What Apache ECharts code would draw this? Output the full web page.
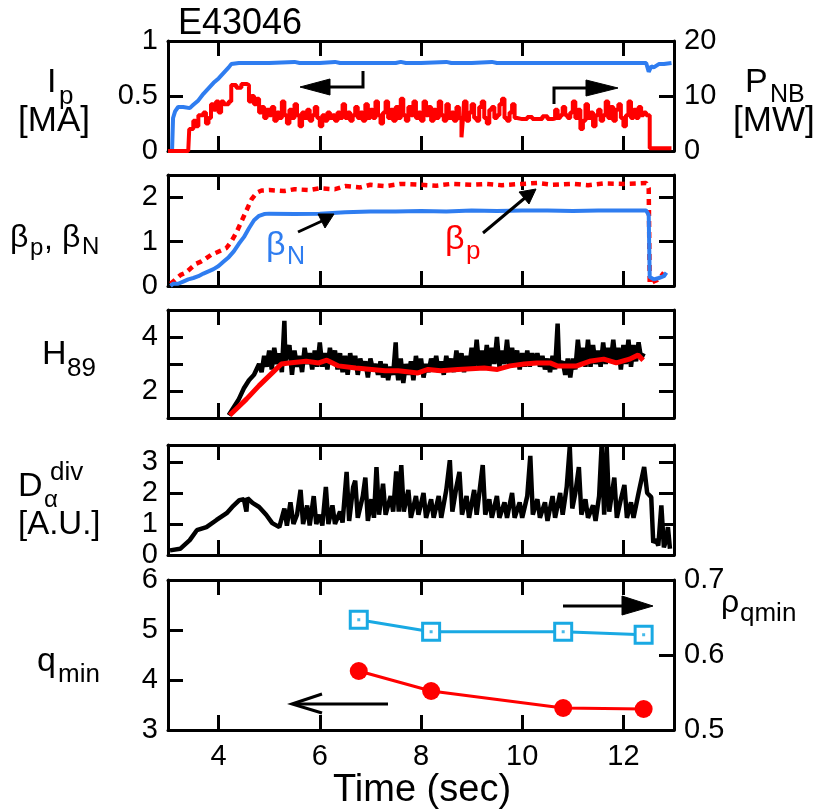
<!DOCTYPE html>
<html><head><meta charset="utf-8">
<script src="https://cdn.jsdelivr.net/npm/echarts@6/dist/echarts.min.js"></script>
<style>html,body{margin:0;padding:0;background:#fff}#c{width:831px;height:810px}</style>
</head><body><div id="c"></div>
<script>
// ---------- DATA ----------
const xTicks = [4, 6, 8, 10, 12];
const shotLabel = 'E43046';
// Panel 1: plasma current Ip [MA] (left) and NB power [MW] (right)
const ipData = [[3.08,0],[3.1,0.3],[3.14,0.36],[3.2,0.4],[3.3,0.4],[3.43,0.39],[3.5,0.42],[3.6,0.46],[3.7,0.52],[3.8,0.57],[3.9,0.62],[4.0,0.66],[4.1,0.71],[4.2,0.76],[4.25,0.79],[4.4,0.8],[5.0,0.8],[5.5,0.81],[5.6,0.8],[6.0,0.8],[6.3,0.81],[6.4,0.8],[7.0,0.8],[7.5,0.8],[7.6,0.81],[7.7,0.8],[8.0,0.8],[8.5,0.81],[8.6,0.8],[9.0,0.8],[9.4,0.81],[9.5,0.8],[10.0,0.8],[10.5,0.8],[11.0,0.8],[11.5,0.8],[12.0,0.8],[12.45,0.8],[12.5,0.72],[12.55,0.77],[12.6,0.76],[12.7,0.79],[12.8,0.79],[12.95,0.8]];
const pnbData = [[3.0,0],[3.4,0],[3.42,4],[3.5,5.5],[3.55,4.5],[3.6,6.5],[3.7,7],[3.75,5],[3.8,6],[3.85,8.5],[3.9,7.5],[3.95,9],[4.0,7],[4.05,9],[4.1,8.5],[4.2,9],[4.25,12],[4.35,11.5],[4.45,12.2],[4.55,12],[4.6,9],[4.65,10],[4.7,8.5],[4.75,9.5],[4.8,7],[4.85,8],[4.9,6],[4.95,7.5],
  [5.0,6.5],[5.05,8],[5.1,5.5],[5.15,7],[5.2,6],[5.25,9],[5.3,6.5],[5.35,5],[5.4,7.5],[5.45,6],[5.5,8.5],[5.55,6.5],[5.6,4.5],[5.65,7],[5.7,6],[5.75,7.5],[5.8,5.5],[5.85,6.5],[5.9,8],[5.95,6],[6.0,4.5],[6.05,6.5],[6.1,5.5],[6.15,7],[6.2,6],[6.25,6.5],[6.3,5.5],[6.35,7],[6.4,6],[6.45,8.5],[6.5,6],[6.55,7],[6.6,5.5],[6.65,6.5],[6.7,8],[6.75,6],[6.8,7],[6.85,5.5],[6.9,8.5],[6.95,6],
  [7.0,7.5],[7.05,6],[7.1,9],[7.15,6.5],[7.2,5],[7.25,7],[7.3,9],[7.35,6],[7.4,7.5],[7.45,5.5],[7.5,8],[7.55,6],[7.6,9.5],[7.65,6.5],[7.7,5.5],[7.75,8],[7.8,6.5],[7.85,9],[7.9,6],[7.95,7],[8.0,5.5],[8.05,9],[8.1,6.5],[8.15,8],[8.2,5.5],[8.25,7.5],[8.3,6],[8.35,9],[8.4,6.5],[8.45,5.5],[8.5,8.5],[8.55,6],[8.6,7],[8.65,5.5],[8.7,8],[8.75,6],[8.8,2.5],[8.83,6],[8.85,9],[8.9,5.5],[8.95,7],
  [9.0,8.5],[9.05,6],[9.1,5.5],[9.15,8],[9.2,9],[9.25,6],[9.3,5],[9.35,7.5],[9.4,8],[9.45,6],[9.5,6.5],[9.55,8.5],[9.6,9.5],[9.65,6],[9.7,5.5],[9.75,7],[9.8,8.5],[9.85,6],[9.9,5.8],[10.0,5.8],[10.1,6.2],[10.2,5.8],[10.3,5.8],[10.4,6.3],[10.5,5.8],[10.6,5.9],[10.65,7.5],[10.7,6],[10.75,6.5],[10.8,8],[10.85,6.5],[10.9,6],[10.95,7],
  [11.0,9],[11.05,6],[11.1,7.5],[11.15,4],[11.2,5.5],[11.25,8.5],[11.3,6],[11.35,7],[11.4,4.5],[11.45,6.5],[11.5,7.5],[11.55,5.5],[11.6,6.5],[11.65,9],[11.7,6],[11.75,8],[11.8,5.5],[11.85,7.5],[11.9,8.5],[11.95,6],[12.0,4.5],[12.05,6.5],[12.1,9],[12.15,6],[12.2,7.5],[12.25,6],[12.3,8],[12.35,6.5],[12.4,7],[12.45,6.5],[12.52,0.5],[12.95,0.5]];
// Panel 2: beta_p (dashed red) and beta_N (blue)
const betaPData = [[3.05,0.05],[3.15,0.15],[3.25,0.25],[3.35,0.3],[3.45,0.4],[3.55,0.5],[3.65,0.55],[3.75,0.62],[3.85,0.7],[3.95,0.75],[4.05,0.8],[4.15,0.85],[4.25,1.0],[4.35,1.2],[4.45,1.45],[4.55,1.7],[4.65,1.95],[4.75,2.1],[4.85,2.15],[5.0,2.16],[5.3,2.14],[5.5,2.18],[5.8,2.16],[6.0,2.2],[6.3,2.18],[6.5,2.25],[6.8,2.22],[7.0,2.28],[7.3,2.25],[7.6,2.3],[8.0,2.28],[8.3,2.26],[8.6,2.3],[9.0,2.28],[9.3,2.3],[9.6,2.27],[10.0,2.3],[10.3,2.32],[10.6,2.28],[11.0,2.3],[11.3,2.27],[11.6,2.31],[12.0,2.3],[12.45,2.32],[12.5,2.2],[12.52,0.05],[12.6,0.1],[12.7,0.15],[12.8,0.3]];
const betaNData = [[3.05,0],[3.1,0.05],[3.2,0.05],[3.3,0.1],[3.4,0.15],[3.5,0.18],[3.6,0.22],[3.7,0.28],[3.8,0.33],[3.9,0.38],[4.0,0.45],[4.1,0.55],[4.2,0.65],[4.3,0.78],[4.4,0.95],[4.5,1.1],[4.6,1.3],[4.7,1.48],[4.8,1.58],[4.9,1.62],[5.0,1.63],[5.5,1.62],[6.0,1.63],[6.5,1.66],[7.0,1.68],[7.5,1.68],[8.0,1.69],[8.5,1.68],[9.0,1.7],[9.5,1.69],[10.0,1.7],[10.5,1.7],[11.0,1.69],[11.5,1.7],[12.0,1.7],[12.45,1.7],[12.5,1.6],[12.52,0.2],[12.6,0.15],[12.7,0.18],[12.8,0.22],[12.85,0.3]];
// Panel 3: H89 (black raw, red smoothed)
const h89Data = [[4.2,1.1],[4.3,1.4],[4.4,1.7],[4.5,2.1],[4.6,2.4],[4.7,2.6],[4.8,3.0],[4.85,2.7],[4.9,3.3],[4.95,2.9],[5.0,3.5],[5.05,2.8],[5.1,3.6],[5.15,3.0],[5.2,3.4],[5.25,2.7],[5.3,4.6],[5.32,3.1],[5.4,3.7],[5.45,2.6],[5.5,3.5],[5.55,2.9],[5.6,3.3],[5.65,2.7],[5.7,3.6],[5.75,3.0],[5.8,3.4],[5.85,2.8],[5.9,3.5],[5.95,2.9],[6.0,3.8],[6.05,2.9],[6.1,3.4],[6.15,2.8],[6.2,3.6],[6.25,3.0],[6.3,3.5],[6.35,2.8],[6.4,3.4],[6.45,2.7],[6.5,3.3],[6.55,2.6],[6.6,3.4],[6.65,2.9],[6.7,3.3],[6.75,2.6],[6.8,3.2],[6.85,2.8],[6.9,3.1],[6.95,2.5],[7.0,3.2],[7.05,2.8],[7.1,3.0],[7.15,2.6],[7.2,3.1],[7.25,2.5],[7.3,3.0],[7.35,2.4],[7.4,2.9],[7.45,2.6],[7.5,3.8],[7.52,2.9],[7.55,2.4],[7.6,3.2],[7.65,2.3],[7.7,3.0],[7.75,2.6],[7.8,3.1],[7.85,2.4],[7.9,3.3],[7.95,2.7],[8.0,3.2],[8.05,2.5],[8.1,3.0],[8.15,2.7],[8.2,3.2],[8.25,2.8],[8.3,3.3],[8.35,2.7],[8.4,3.1],[8.45,2.6],[8.5,3.3],[8.55,2.8],[8.6,3.2],[8.65,2.7],[8.7,3.5],[8.75,2.8],[8.8,3.4],[8.85,2.7],[8.9,3.3],[8.95,2.8],[9.0,3.6],[9.05,2.8],[9.1,3.9],[9.15,2.9],[9.2,3.5],[9.25,2.8],[9.3,3.7],[9.35,2.9],[9.4,3.6],[9.45,3.0],[9.5,4.0],[9.55,2.9],[9.6,3.5],[9.65,3.0],[9.7,3.9],[9.75,2.9],[9.8,3.6],[9.85,3.0],[9.9,3.5],[9.95,2.8],[10.0,3.4],[10.05,2.9],[10.1,3.5],[10.15,2.9],[10.2,3.4],[10.25,3.0],[10.3,3.4],[10.35,2.9],[10.4,3.3],[10.45,2.8],[10.5,3.2],[10.55,2.7],[10.6,3.3],[10.65,2.8],[10.7,4.5],[10.73,2.9],[10.8,3.1],[10.85,2.6],[10.9,3.2],[10.95,2.5],[11.0,3.2],[11.05,2.8],[11.1,3.9],[11.15,3.0],[11.2,3.6],[11.25,2.9],[11.3,3.9],[11.35,2.9],[11.4,3.7],[11.45,3.0],[11.5,3.5],[11.55,2.9],[11.6,3.8],[11.65,3.0],[11.7,3.6],[11.75,3.1],[11.8,3.9],[11.85,3.0],[11.9,3.6],[11.95,2.8],[12.0,3.7],[12.05,3.0],[12.1,3.9],[12.15,2.9],[12.2,3.7],[12.25,3.1],[12.3,3.8],[12.35,3.2],[12.4,3.4]];
const h89SmoothData = [[4.22,1.1],[4.55,1.7],[4.8,2.2],[5.06,2.67],[5.24,3.0],[5.39,3.04],[5.73,3.1],[5.98,3.04],[6.14,3.14],[6.37,2.93],[6.71,2.85],[7.29,2.75],[7.55,2.75],[7.94,2.67],[8.14,2.8],[8.39,2.75],[8.73,2.8],[9.25,2.85],[9.51,2.8],[9.76,2.93],[10.04,3.0],[10.29,3.04],[10.55,3.04],[10.69,2.93],[11.08,2.93],[11.33,3.1],[11.61,3.18],[11.86,3.04],[12.12,3.18],[12.29,3.33],[12.39,3.14]];
// Panel 4: divertor D-alpha [A.U.]
const dalphaData = [[3.04,0.15],[3.24,0.2],[3.43,0.48],[3.57,0.8],[3.76,0.9],[3.96,1.13],[4.16,1.35],[4.27,1.55],[4.41,1.77],[4.5,1.8],[4.55,1.4],[4.57,1.84],[4.67,1.68],[4.8,1.55],[4.94,1.3],[5.06,1.03],[5.2,0.9],[5.3,1.5],[5.35,0.95],[5.42,1.7],[5.48,1.0],[5.55,1.3],[5.62,2.1],[5.67,1.0],[5.75,1.6],[5.8,0.95],[5.88,1.9],[5.93,1.0],[6.0,1.3],[6.05,0.95],[6.12,2.2],[6.17,1.0],[6.25,1.6],[6.3,1.0],[6.4,1.4],[6.45,1.05],[6.53,2.68],[6.58,1.1],[6.66,2.2],[6.7,2.4],[6.75,1.2],[6.85,1.9],[6.9,2.5],[6.95,1.1],[7.02,1.8],[7.07,1.2],[7.12,2.84],[7.17,1.3],[7.25,2.3],[7.3,1.3],[7.4,1.9],[7.45,1.4],[7.51,2.7],[7.56,1.4],[7.61,2.9],[7.66,1.4],[7.75,2.1],[7.8,1.2],[7.9,1.9],[7.95,1.3],[8.05,2.0],[8.1,1.2],[8.2,1.8],[8.25,1.2],[8.35,1.9],[8.4,1.2],[8.5,2.1],[8.57,3.06],[8.62,1.4],[8.7,2.2],[8.76,2.68],[8.81,1.3],[8.9,1.9],[8.95,1.2],[9.05,2.1],[9.1,1.3],[9.22,2.9],[9.27,1.3],[9.35,1.8],[9.4,1.2],[9.5,1.9],[9.55,1.2],[9.65,1.7],[9.7,1.2],[9.8,2.0],[9.85,1.2],[9.95,1.7],[10.0,1.2],[10.1,1.9],[10.16,3.2],[10.21,1.3],[10.3,1.8],[10.35,1.2],[10.45,1.7],[10.5,1.1],[10.6,1.9],[10.65,1.2],[10.75,2.0],[10.8,1.3],[10.88,2.2],[10.94,3.5],[10.99,1.5],[11.05,2.0],[11.12,2.84],[11.17,1.3],[11.25,1.8],[11.3,1.2],[11.4,1.6],[11.45,1.1],[11.52,1.9],[11.57,3.55],[11.62,1.3],[11.67,3.5],[11.72,1.4],[11.82,2.5],[11.87,1.2],[11.95,1.8],[12.02,2.26],[12.07,1.2],[12.15,1.7],[12.2,1.2],[12.3,2.0],[12.41,2.84],[12.47,2.0],[12.55,1.87],[12.59,0.4],[12.64,0.5],[12.69,0.3],[12.75,1.6],[12.8,0.25],[12.85,0.5],[12.88,0.9],[12.92,0.2]];
// Panel 5: q_min (left, red circles) and rho_qmin (right, cyan squares)
const qTimes = [6.77, 8.2, 10.81, 12.4];
const qminValues = [4.18, 3.78, 3.44, 3.42];
const rhoQminValues = [0.647, 0.631, 0.631, 0.627];

// ---------- STYLE ----------
const FONT = '"Liberation Sans", Arial, Helvetica, sans-serif';
const BLUE = '#2f7df0', RED = '#ff0000', CYAN = '#19a9e3';
const panels = [
  {top: 41, height: 110, lmin: 0, lmax: 1, lint: 0.5, rmin: 0, rmax: 20, rint: 10, rlab: true, lfmt: v => (v === 0 ? '0' : v === 0.5 ? '0.5' : v === 1 ? '1' : '')},
  {top: 175, height: 111, lmin: 0, lmax: 2.5, lint: 1, rmin: 0, rmax: 2.5, rint: 1, rlab: false, lfmt: v => (Number.isInteger(v) ? String(v) : '')},
  {top: 310, height: 108, lmin: 1, lmax: 5, lint: 1, rmin: 1, rmax: 5, rint: 1, rlab: false, lfmt: v => (v === 2 || v === 4 ? String(v) : '')},
  {top: 445, height: 110, lmin: 0, lmax: 3.55, lint: 1, rmin: 0, rmax: 3.55, rint: 1, rlab: false, lfmt: v => (Number.isInteger(v) ? String(v) : '')},
  {top: 580, height: 150, lmin: 3, lmax: 6, lint: 1, rmin: 0.5, rmax: 0.7, rint: 0.1, rlab: true, lfmt: v => String(v)}
];
const axLine = {show: true, onZero: false, lineStyle: {color: '#000', width: 3}};
const tick = {show: true, inside: true, length: 15, lineStyle: {color: '#000', width: 3}};
const grids = [], xAxes = [], yAxes = [];
panels.forEach((p, i) => {
  grids.push({left: 168, right: 157, top: p.top, height: p.height, containLabel: false});
  xAxes.push({gridIndex: i, type: 'value', min: 3, max: 13, position: 'bottom', axisLine: axLine,
    axisTick: Object.assign({}, tick, {customValues: xTicks}),
    axisLabel: {show: i === 4, customValues: xTicks, fontSize: 29, fontFamily: FONT, color: '#000', margin: 12},
    splitLine: {show: false}});
  xAxes.push({gridIndex: i, type: 'value', min: 3, max: 13, position: 'top', axisLine: axLine,
    axisTick: Object.assign({}, tick, {customValues: xTicks}),
    axisLabel: {show: false}, splitLine: {show: false}});
  yAxes.push({gridIndex: i, type: 'value', min: p.lmin, max: p.lmax, interval: p.lint, position: 'left',
    axisLine: axLine, axisTick: tick,
    axisLabel: {show: true, fontSize: 29, fontFamily: FONT, color: '#000', margin: 10, formatter: p.lfmt, showMinLabel: true, showMaxLabel: true},
    splitLine: {show: false}});
  yAxes.push({gridIndex: i, type: 'value', min: p.rmin, max: p.rmax, interval: p.rint, position: 'right',
    axisLine: axLine, axisTick: tick,
    axisLabel: {show: p.rlab, fontSize: 29, fontFamily: FONT, color: '#000', margin: 10,
      formatter: v => (i === 4 ? v.toFixed(1) : String(v)), showMinLabel: true, showMaxLabel: true},
    splitLine: {show: false}});
});

const line = (name, data, xi, yi, color, width, extra) => Object.assign({
  name, type: 'line', data, xAxisIndex: xi, yAxisIndex: yi, showSymbol: false, symbol: 'none',
  lineStyle: {color, width}, itemStyle: {color}, animation: false}, extra || {});

const series = [
  line('Ip', ipData, 0, 0, BLUE, 4),
  line('PNB', pnbData, 0, 1, RED, 4, {step: 'end'}),
  line('betaP', betaPData, 2, 2, RED, 4.5, {lineStyle: {color: RED, width: 4.5, type: [6, 5]}}),
  line('betaN', betaNData, 2, 2, BLUE, 4),
  line('H89', h89Data, 4, 4, '#000', 4.5),
  line('H89s', h89SmoothData, 4, 4, RED, 5),
  line('Dalpha', dalphaData, 6, 6, '#000', 4.5),
  {name: 'qmin', type: 'line', xAxisIndex: 8, yAxisIndex: 8, data: qTimes.map((t, k) => [t, qminValues[k]]),
    symbol: 'circle', symbolSize: 18, showSymbol: true, lineStyle: {color: RED, width: 3}, itemStyle: {color: RED}, animation: false},
  {name: 'rho', type: 'line', xAxisIndex: 8, yAxisIndex: 9, data: qTimes.map((t, k) => [t, rhoQminValues[k]]),
    symbol: 'rect', symbolSize: 17, showSymbol: true, lineStyle: {color: CYAN, width: 3},
    itemStyle: {color: '#fff', borderColor: CYAN, borderWidth: 3}, z: 3, animation: false},
  {name: 'rhoDot', type: 'scatter', xAxisIndex: 8, yAxisIndex: 9, data: qTimes.map((t, k) => [t, rhoQminValues[k]]),
    symbol: 'rect', symbolSize: 3, itemStyle: {color: CYAN}, z: 4, animation: false}
];

// ---------- ANNOTATIONS ----------
const T = (x, y, text, size, color) => ({type: 'text', x, y, z: 100,
  style: {text, font: size + 'px ' + FONT, fill: color || '#000', textAlign: 'left', textVerticalAlign: 'middle', align: 'left', verticalAlign: 'middle'}});
const PL = (pts) => ({type: 'polyline', z: 100, shape: {points: pts}, style: {stroke: '#000', lineWidth: 3, fill: null}});
const PG = (pts) => ({type: 'polygon', z: 100, shape: {points: pts}, style: {fill: '#000', stroke: '#000', lineWidth: 1}});
const graphics = [
  T(178, 24, shotLabel, 36),
  T(47, 83, 'I', 34), T(59, 97, 'p', 26),
  T(18, 121, '[MA]', 35),
  T(745, 83, 'P', 34), T(770, 95, 'NB', 25),
  T(733, 121, '[MW]', 35),
  T(10, 238, 'β', 32), T(30, 248, 'p', 24), T(44, 240, ',', 32), T(62, 238, 'β', 32), T(82, 247, 'N', 24),
  T(266, 246, 'β', 34, BLUE), T(287, 257, 'N', 25, BLUE),
  T(445, 240, 'β', 34, RED), T(466, 252, 'p', 26, RED),
  T(42, 355, 'H', 34), T(67, 369, '89', 26),
  T(18, 487, 'D', 34), T(44, 500, 'α', 24), T(50, 473, 'div', 26),
  T(18, 525, '[A.U.]', 33),
  T(37, 662, 'q', 34), T(58, 675, 'min', 26),
  T(721, 603, 'ρ', 32), T(740, 614, 'qmin', 26),
  T(333, 791, 'Time (sec)', 38),
  // arrows
  PL([[363, 71], [363, 87], [328, 87]]), PG([[300, 87], [330, 79], [330, 95]]),
  PL([[554, 104], [554, 88], [588, 88]]), PG([[618, 88], [586, 80], [586, 96]]),
  PL([[298, 232], [322, 221]]), PG([[334, 214], [318, 214], [325, 228]]),
  PL([[483, 233], [526, 197]]), PG([[536, 189], [519, 192], [529, 204]]),
  PL([[388, 704], [295, 704]]), PL([[322, 694], [292, 704], [322, 713]]),
  PL([[563, 606], [648, 606]]), PG([[653, 606], [622, 596], [622, 615]])
];

const chart = echarts.init(document.getElementById('c'), null, {renderer: 'canvas'});
chart.setOption({
  animation: false, backgroundColor: '#fff',
  grid: grids, xAxis: xAxes, yAxis: yAxes, series: series, graphic: graphics,
  textStyle: {fontFamily: FONT}
});
</script></body></html>
